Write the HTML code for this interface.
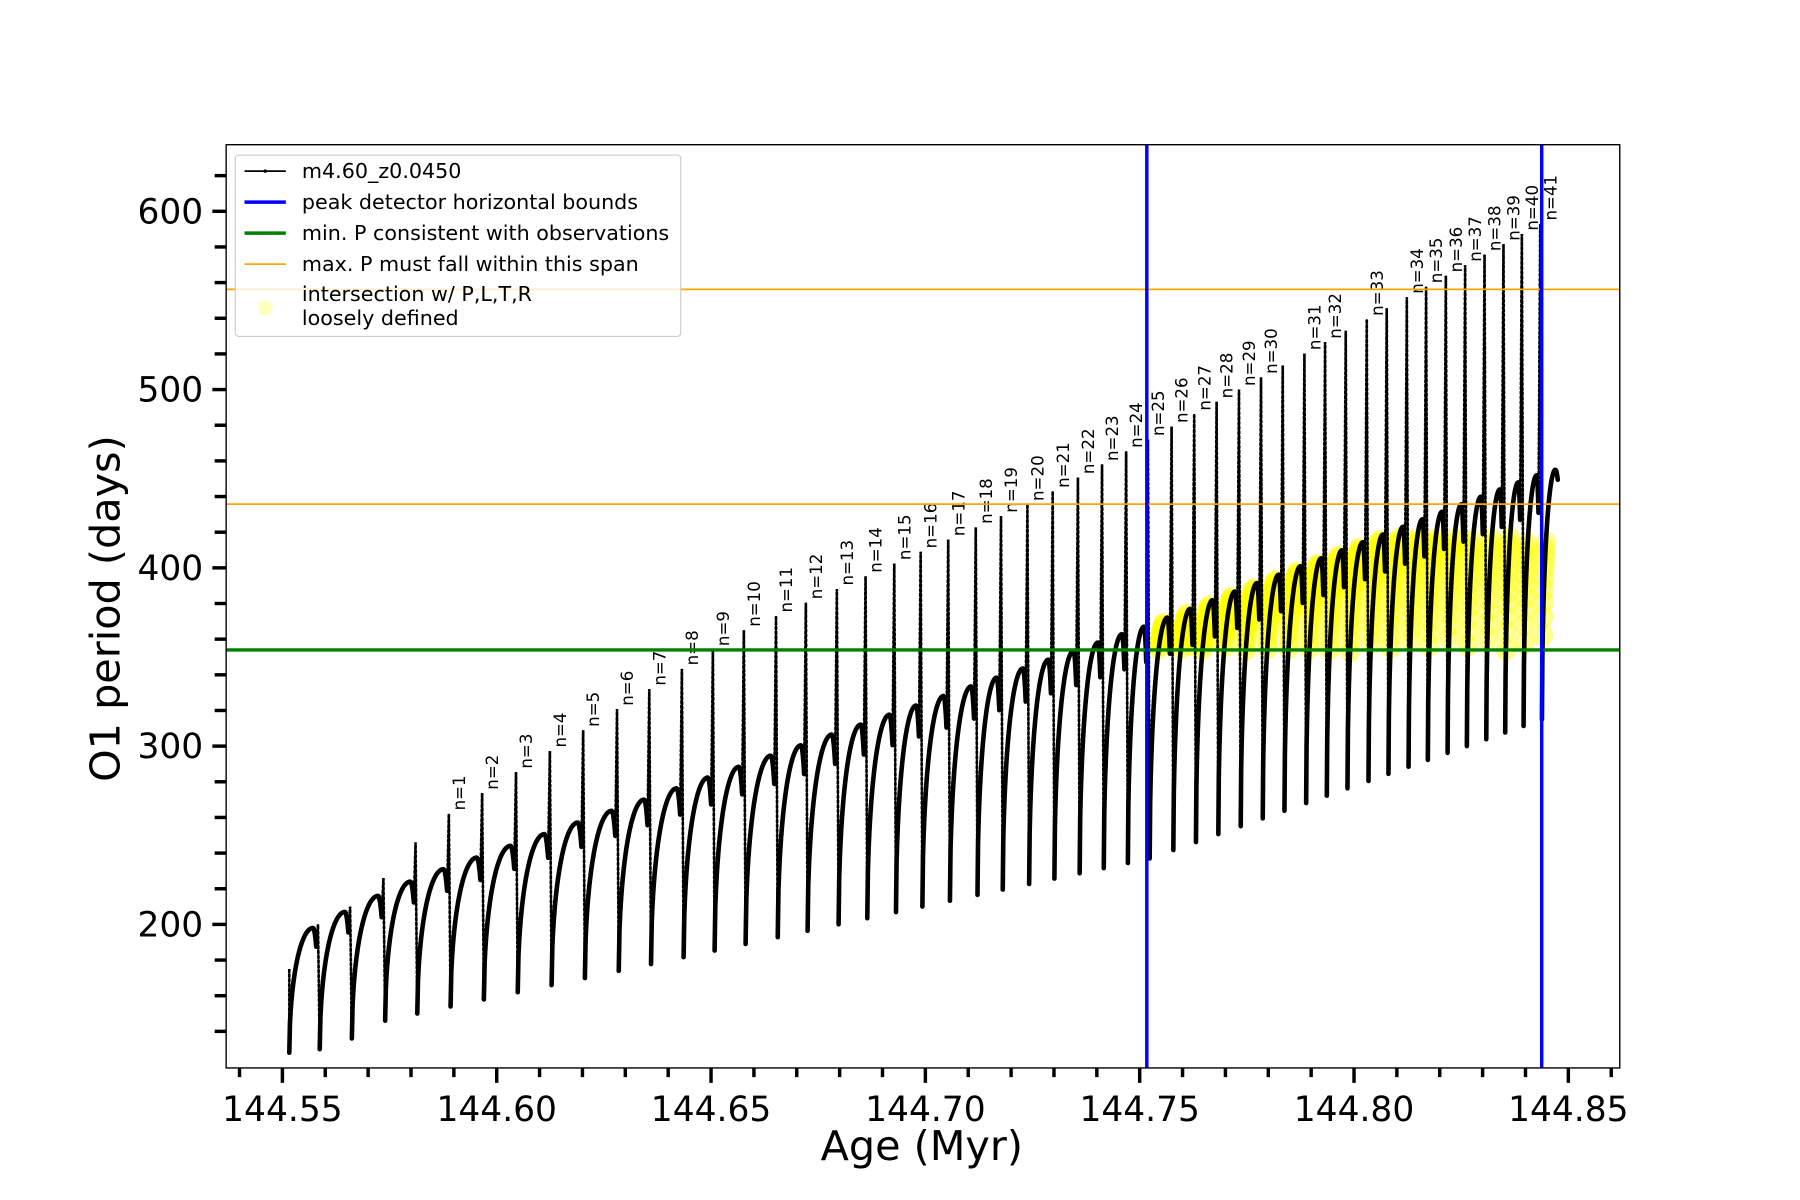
<!DOCTYPE html>
<html><head><meta charset="utf-8"><style>
html,body{margin:0;padding:0;background:#fff;}
svg{display:block;}
text{font-family:"DejaVu Sans","Liberation Sans",sans-serif;}
</style></head><body>
<svg id="s" width="1800" height="1200" viewBox="0 0 1568 1045" preserveAspectRatio="none" xmlns="http://www.w3.org/2000/svg">
<rect x="0" y="0" width="1568" height="1045" fill="#fff"/>
<g id="yel"></g>
<g id="data"></g>
<g id="lab" font-size="14.5" fill="#000"></g>
<line x1="197" x2="1411" y1="252" y2="252" stroke="#ffa500" stroke-width="1.6"/>
<line x1="197" x2="1411" y1="439" y2="439" stroke="#ffa500" stroke-width="1.6"/>
<line x1="197" x2="1411" y1="566" y2="566" stroke="#008000" stroke-width="3"/>
<line x1="999" x2="999" y1="126" y2="930" stroke="#0000ff" stroke-width="3"/>
<line x1="1343" x2="1343" y1="126" y2="930" stroke="#0000ff" stroke-width="3"/>
<rect x="197" y="126" width="1214" height="804" fill="none" stroke="#000" stroke-width="1.2"/>
<g id="ticks" stroke="#000"></g>
<g font-size="30" fill="#000" id="tl"></g>
<text x="803" y="1010" font-size="36" text-anchor="middle">Age (Myr)</text>
<text transform="translate(104,530) rotate(-90)" font-size="36" text-anchor="middle">O1 period (days)</text>
<rect x="205" y="135" width="388" height="158" rx="3" fill="#fff" fill-opacity="0.8" stroke="#ccc" stroke-width="1"/>
<line x1="213" x2="249" y1="149" y2="149" stroke="#000" stroke-width="1.5"/>
<circle cx="231" cy="149" r="1.5" fill="#000"/>
<line x1="213" x2="249" y1="176" y2="176" stroke="#0000ff" stroke-width="3"/>
<line x1="213" x2="249" y1="203" y2="203" stroke="#008000" stroke-width="3"/>
<line x1="213" x2="249" y1="230" y2="230" stroke="#ffa500" stroke-width="1.5"/>
<circle cx="231" cy="268" r="6.5" fill="#ffff00" fill-opacity="0.25"/>
<g font-size="18" fill="#000">
<text x="263" y="155">m4.60_z0.0450</text>
<text x="263" y="182">peak detector horizontal bounds</text>
<text x="263" y="209">min. P consistent with observations</text>
<text x="263" y="236">max. P must fall within this span</text>
<text x="263" y="262">intersection w/ P,L,T,R</text>
<text x="263" y="283">loosely defined</text>
</g>
</svg>
<script>
(function(){
const Y=p=>805-(p-200)*1.5525;
function interp(pts,x){if(x<=pts[0][0])return pts[0][1];for(let i=1;i<pts.length;i++){if(x<=pts[i][0]){const a=pts[i-1],b=pts[i];return a[1]+(b[1]-a[1])*(x-a[0])/(b[0]-a[0]);}}const a=pts[pts.length-2],b=pts[pts.length-1];return a[1]+(b[1]-a[1])*(x-a[0])/(b[0]-a[0]);}
const Mp=[[252,128],[277,130],[305,136],[334,146],[362,150],[1000,237],[1342,315]];
const Cp=[[277,198],[305,207],[334,216],[362,224],[391,231],[1000,367],[1342,452]];
const Tp=[[277,200],[305,210],[334,226],[362,246],[391,262],[648,365],[900,437],[1000,472],[1342,593]];
const lab={1:391,2:420,3:449.5,4:479,5:508,6:537.5,7:565.6,8:594,9:621,10:648,11:676,12:702,13:729,14:754,15:779,16:802,17:826,18:850,19:872,20:895,21:917,22:939,23:960,24:981,25:1000,26:1020.6,27:1040.3,28:1059.8,29:1079.3,30:1098.5,31:1136.3,32:1154.3,33:1190.6,34:1225.5,35:1242.3,36:1259.5,37:1276.3,38:1293.2,39:1309.7,40:1325.7,41:1341.7};
let spikes=[277,305,334,362];
for(let n=1;n<=41;n++)spikes.push(lab[n]);
spikes.push(1117.4,1172.3,1208);
spikes.sort((a,b)=>a-b);
let curve="",sp="",yh="";
sp+="M252,"+Y(175)+"L252,"+Y(128)+" ";
let starts=[252].concat(spikes.map(x=>x+1.5));
for(let i=0;i<starts.length;i++){
  const xs=starts[i];
  const last=(i==starts.length-1);
  const xe=last?1357:spikes[i];
  const M=interp(Mp,xs-1.5);
  const C=last?455:interp(Cp,xe);
  const N=40;
  let d="";
  for(let k=0;k<=N;k++){
    const t=k/N;
    const x=xs+t*(xe-xs-(last?0:1.5));
    let P;
    const pk=last?0.85:0.88;
    if(t<pk){const u=t/pk;P=M+(C-M)*Math.sqrt(1-(1-u)*(1-u));}
    else{const v=(t-pk)/(1-pk);P=C-(C-M)*(last?0.04:0.15)*v*v;}
    d+=(k==0?"M":"L")+x.toFixed(2)+","+Y(P).toFixed(2)+" ";
    if(xs>=999 && P>=353 && P<=Math.min(C-3,417)){
      yh+='<ellipse cx="'+x.toFixed(1)+'" cy="'+Y(P).toFixed(1)+'" rx="9" ry="10" fill="#ffff00" fill-opacity="0.45"/>';
    }
    if(k==N && !last){
      const T=interp(Tp,xe), Mn=interp(Mp,xe);
      sp+="M"+x.toFixed(2)+","+Y(P).toFixed(2)+"L"+xe.toFixed(2)+","+Y(T).toFixed(2)+"L"+(xe+1.5).toFixed(2)+","+Y(Mn).toFixed(2)+" ";
    }
  }
  curve+=d;
}
document.getElementById('yel').innerHTML=yh;
document.getElementById('data').innerHTML='<path d="'+sp+'" fill="none" stroke="#000" stroke-width="2.3" stroke-dasharray="3 1.2"/><path d="'+sp+'" fill="none" stroke="#000" stroke-width="1.6"/><path d="'+curve+'" fill="none" stroke="#000" stroke-width="4" stroke-linejoin="round" stroke-linecap="round"/>';
let lh="";
for(let n=1;n<=41;n++){const x=lab[n];const T=interp(Tp,x);lh+='<text transform="translate('+(x+14)+','+(Y(T)-3)+') rotate(-90)">n='+n+'</text>';}
document.getElementById('lab').innerHTML=lh;
let th="",tl="";
for(let i=0;i<=32;i++){const a=144.54+i*0.01;const x=246+(a-144.55)/0.05*186.7;const maj=(i%5==1);th+='<line x1="'+x+'" x2="'+x+'" y1="930" y2="'+(maj?943:938)+'" stroke-width="3"/>';
 if(maj)tl+='<text x="'+x+'" y="976" text-anchor="middle">'+a.toFixed(2)+'</text>';}
for(let p=140;p<=620;p+=20){const y=Y(p);const maj=(p%100==0);th+='<line x1="'+(maj?185:187)+'" x2="197" y1="'+y+'" y2="'+y+'" stroke-width="3"/>';
 if(maj)tl+='<text x="177" y="'+(y+10.5)+'" text-anchor="end">'+p+'</text>';}
document.getElementById('ticks').innerHTML=th;
document.getElementById('tl').innerHTML=tl;
})();
</script>
</body></html>
